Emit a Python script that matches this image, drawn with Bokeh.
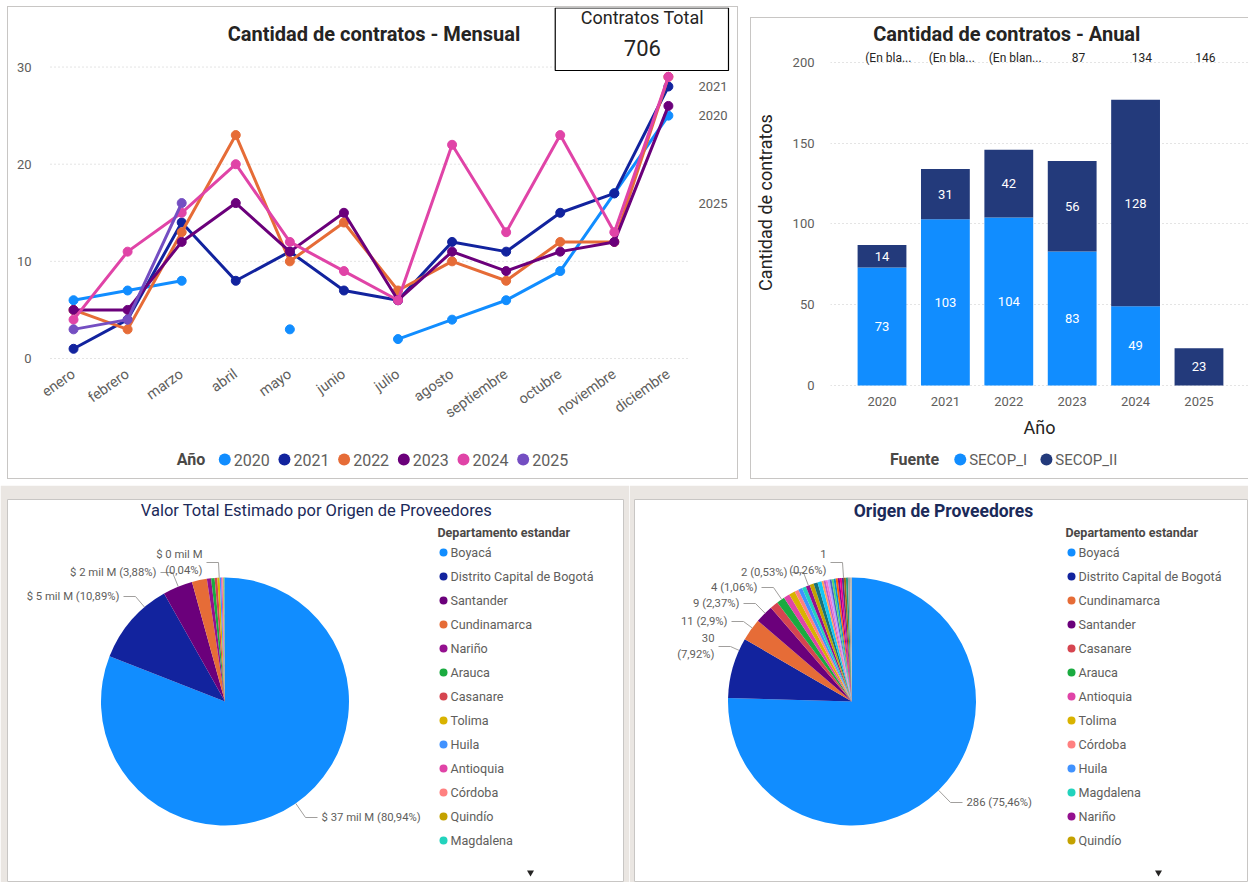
import math
import numpy as np
from bokeh.plotting import figure
from bokeh.models import Range1d, FixedTicker, Spacer
from bokeh.layouts import row, column
from bokeh.embed import file_html
from bokeh.resources import INLINE
from bokeh.core.properties import value

FONT = "Roboto"
GRAY = "#605E5C"
DARK = "#252423"
LEGTITLE = "#4A4846"
NAVY = "#1B2A59"
BEIGE = "#EAE6E2"
BORDER = "#C8C6C4"
LEADER = "#A19F9D"
GRID = "#C8C8C8"
NAN = float("nan")

# ---------------- data ----------------
meses = ["enero", "febrero", "marzo", "abril", "mayo", "junio", "julio",
         "agosto", "septiembre", "octubre", "noviembre", "diciembre"]
serie_anios = ["2020", "2021", "2022", "2023", "2024", "2025"]
mensual_2020 = [6, 7, 8, NAN, 3, NAN, 2, 4, 6, 9, 17, 25]
mensual_2021 = [1, 4, 14, 8, 11, 7, 6, 12, 11, 15, 17, 28]
mensual_2022 = [5, 3, 13, 23, 10, 14, 7, 10, 8, 12, 12, 29]
mensual_2023 = [5, 5, 12, 16, 11, 15, 6, 11, 9, 11, 12, 26]
mensual_2024 = [4, 11, 15, 20, 12, 9, 6, 22, 13, 23, 13, 29]
mensual_2025 = [3, 4, 16, NAN, NAN, NAN, NAN, NAN, NAN, NAN, NAN, NAN]
serie_colores = ["#118DFF", "#12239E", "#E66C37", "#6B007B", "#E044A7", "#744EC2"]
etiquetas_fin = ["2021", "2020", "2025"]
ticks_mensual = [0, 10, 20, 30]

anios = [2020, 2021, 2022, 2023, 2024, 2025]
secop_i = [73, 103, 104, 83, 49, 0]
secop_ii = [14, 31, 42, 56, 128, 23]
etiquetas_superiores = ["(En bla...", "(En bla...", "(En blan...", "87", "134", "146"]
fuentes = ["SECOP_I", "SECOP_II"]
fuente_colores = ["#118DFF", "#233A7B"]
ticks_anual = [0, 50, 100, 150, 200]

depto_valor = ["Boyacá", "Distrito Capital de Bogotá", "Santander", "Cundinamarca",
               "Nariño", "Arauca", "Casanare", "Tolima", "Huila", "Antioquia",
               "Córdoba", "Quindío", "Magdalena", "Meta", "Valle del Cauca"]
pct_valor = [80.94, 10.89, 3.88, 1.95, 0.55, 0.45, 0.35, 0.30, 0.20, 0.15,
             0.10, 0.08, 0.06, 0.06, 0.04]
valor_total_mil_m = 45.7

depto_origen = ["Boyacá", "Distrito Capital de Bogotá", "Cundinamarca", "Santander",
                "Casanare", "Arauca", "Antioquia", "Tolima", "Córdoba", "Huila",
                "Magdalena", "Nariño", "Quindío", "Meta", "Valle del Cauca",
                "Caldas", "Risaralda", "Cauca", "Bolívar", "Atlántico", "Cesar",
                "Sucre", "Norte de Santander", "Putumayo", "Caquetá", "Chocó",
                "Guaviare", "La Guajira", "Vichada", "Amazonas"]
contratos_origen = [286, 30, 11, 9, 4, 4, 3, 3, 2, 2, 2, 2, 2, 2, 2,
                    1, 1, 1, 1, 1, 1, 1, 1, 1, 1, 1, 1, 1, 1, 1]

colores_depto = {
    "Boyacá": "#118DFF", "Distrito Capital de Bogotá": "#12239E",
    "Santander": "#6B007B", "Cundinamarca": "#E66C37", "Nariño": "#94108F",
    "Arauca": "#1AAB40", "Casanare": "#D64550", "Tolima": "#D9B300",
    "Huila": "#4092FF", "Antioquia": "#E044A7", "Córdoba": "#FF8080",
    "Quindío": "#C4A200", "Magdalena": "#22D3BD", "Meta": "#197278",
    "Valle del Cauca": "#15C6F4", "Caldas": "#FFA058", "Risaralda": "#BE5DC9",
    "Cauca": "#F472D0", "Bolívar": "#B5A1FF", "Atlántico": "#4668C5",
    "Cesar": "#5BD667", "Sucre": "#0091D5", "Norte de Santander": "#FF6300",
    "Putumayo": "#99008A", "Caquetá": "#EC008C", "Chocó": "#533285",
    "Guaviare": "#99700A", "La Guajira": "#1F9A85", "Vichada": "#A0A0A0",
    "Amazonas": "#B8B8B8",
}

series = [mensual_2020, mensual_2021, mensual_2022, mensual_2023, mensual_2024, mensual_2025]


def txt(p, x, y, text, size, color, align="left", style="normal", baseline="middle"):
    p.text(x=[x], y=[y], text=[text], text_font=value(FONT), text_font_size=size,
           text_color=color, text_align=align, text_baseline=baseline, text_font_style=style)


def fmt_pct(v):
    s = f"{v:.2f}".rstrip("0").rstrip(".")
    return s.replace(".", ",")


def legend_fig(w, h, left_border, x0, x1):
    # frame aligned with the chart above it; data x = window pixel x
    p = figure(width=w, height=h, output_backend="svg", toolbar_location=None,
               x_range=Range1d(x0, x1), y_range=Range1d(0, h),
               min_border_left=left_border, min_border_right=0,
               min_border_top=0, min_border_bottom=0,
               x_axis_type=None, y_axis_type=None)
    p.outline_line_color = None
    p.grid.visible = False
    return p


def style_axis(ax, size="13px"):
    ax.axis_line_color = None
    ax.major_tick_line_color = None
    ax.minor_tick_line_color = None
    ax.major_label_text_font = FONT
    ax.major_label_text_font_size = size
    ax.major_label_text_color = GRAY


def yL(ry):
    return 478 - ry


# ============ Panel A: monthly lines (content x 8..736, y 7..477) ============
A_W = 729
PX_A = 306 / 31.5          # pixels per contract


def xA(rx):
    return (rx - 46) / 54 - 0.5


def yA(ry):
    return (358 - ry) / PX_A


pA = figure(width=A_W, height=439, output_backend="svg", toolbar_location=None,
            x_range=Range1d(xA(46), xA(736)), y_range=Range1d(yA(361), yA(7)),
            min_border_left=38, min_border_right=0, min_border_top=0, min_border_bottom=85)
pA.outline_line_color = None
pA.xgrid.visible = False
pA.ygrid.visible = False

pA.segment(x0=[xA(50)] * len(ticks_mensual), x1=[xA(687)] * len(ticks_mensual),
           y0=ticks_mensual, y1=ticks_mensual, line_color=GRID, line_dash="1 3", line_width=1)

xs = list(range(len(meses)))
for nombre, vals, col in zip(serie_anios, series, serie_colores):
    pA.line(xs, vals, line_color=col, line_width=3)
    pA.scatter(xs, vals, size=9, fill_color=col, line_color=col)

pA.xaxis.ticker = FixedTicker(ticks=xs)
pA.xaxis.major_label_overrides = {i: m for i, m in enumerate(meses)}
pA.xaxis.major_label_orientation = 0.62
pA.yaxis.ticker = FixedTicker(ticks=ticks_mensual)
style_axis(pA.xaxis, "14.5px")
style_axis(pA.yaxis, "13px")
pA.xaxis.major_label_standoff = 5
pA.yaxis.major_label_standoff = 9

txt(pA, xA(373), yA(33), "Cantidad de contratos - Mensual", "20px", DARK, "center", "bold")
for nombre in etiquetas_fin:
    vals = series[serie_anios.index(nombre)]
    last = [v for v in vals if not math.isnan(v)][-1]
    txt(pA, xA(697), last, nombre, "13px", GRAY)

total_contratos = sum(secop_i) + sum(secop_ii)
pA.quad(left=[xA(554)], right=[xA(727)], top=[yA(7.5)], bottom=[yA(70)],
        fill_color="white", line_color="black", line_width=1.2)
txt(pA, xA(641), yA(17), "Contratos Total", "18px", DARK, "center")
txt(pA, xA(641), yA(47), str(total_contratos), "22px", DARK, "center")

# legend strip of panel A (content y 446..477)
lgA = legend_fig(A_W, 32, 38, 46, 736)
txt(lgA, 176, yL(459), "Año", "16px", LEGTITLE, "left", "bold")
dot_x = [224 + i * 59.6 for i in range(len(serie_anios))]
lgA.scatter(x=dot_x, y=[yL(459)] * len(dot_x), size=12,
            fill_color=serie_colores, line_color=None)
lgA.text(x=[d + 9 for d in dot_x], y=[yL(459)] * len(dot_x), text=serie_anios,
         text_font=value(FONT), text_font_size="16px", text_color=GRAY,
         text_align="left", text_baseline="middle")

colA = column(pA, lgA, styles={"border": f"1px solid {BORDER}"})

# ============ Panel B: yearly stacked bars (content x 751..1248, y 18..477) ============
B_W = 497
PX_B = 335 / 207.43


def xB(rx):
    return 2020 + (rx - 878) / 64


def yB(ry):
    return (385 - ry) / PX_B


pB = figure(width=B_W, height=428, output_backend="svg", toolbar_location=None,
            x_range=Range1d(xB(826), xB(1248)), y_range=Range1d(yB(386), yB(18)),
            min_border_left=75, min_border_right=0, min_border_top=0, min_border_bottom=60)
pB.outline_line_color = None

totales = [a + b for a, b in zip(secop_i, secop_ii)]
pB.vbar(x=anios, bottom=0, top=secop_i, width=0.77, fill_color=fuente_colores[0], line_color=None)
pB.vbar(x=anios, bottom=secop_i, top=totales, width=0.77, fill_color=fuente_colores[1], line_color=None)

lx, ly, lt = [], [], []
for a, v1, v2 in zip(anios, secop_i, secop_ii):
    if v1 > 0:
        lx.append(a); ly.append(v1 / 2); lt.append(str(v1))
    if v2 > 0:
        lx.append(a); ly.append(v1 + v2 / 2); lt.append(str(v2))
pB.text(x=lx, y=ly, text=lt, text_color="white", text_font=value(FONT), text_font_size="13px",
        text_align="center", text_baseline="middle")
pB.text(x=[a + 0.1 for a in anios], y=[yB(57)] * len(anios), text=etiquetas_superiores,
        text_color=DARK, text_font=value(FONT), text_font_size="12px",
        text_align="center", text_baseline="middle")
txt(pB, xB(1004), yB(33), "Cantidad de contratos - Anual", "20px", DARK, "center", "bold")

pB.xaxis.ticker = FixedTicker(ticks=anios)
pB.yaxis.ticker = FixedTicker(ticks=ticks_anual)
for ax in (pB.xaxis, pB.yaxis):
    style_axis(ax, "13px")
    ax.axis_label_text_font = FONT
    ax.axis_label_text_font_size = "18px"
    ax.axis_label_text_color = DARK
    ax.axis_label_text_font_style = "normal"
pB.xaxis.axis_label = "Año"
pB.yaxis.axis_label = "Cantidad de contratos"
pB.xaxis.major_label_standoff = 4
pB.yaxis.major_label_standoff = 10
pB.xaxis.axis_label_standoff = 8
pB.yaxis.axis_label_standoff = 14
pB.xgrid.visible = False
pB.ygrid.grid_line_color = GRID
pB.ygrid.grid_line_dash = "1 3"

lgB = legend_fig(B_W, 32, 75, 826, 1248)
txt(lgB, 886, yL(459), "Fuente", "16px", LEGTITLE, "left", "bold")
fx = [957, 1044]
lgB.scatter(x=fx, y=[yL(459)] * 2, size=12, fill_color=fuente_colores, line_color=None)
lgB.text(x=[d + 9 for d in fx], y=[yL(459)] * 2, text=fuentes,
         text_font=value(FONT), text_font_size="15px", text_color=GRAY,
         text_align="left", text_baseline="middle")

colB = column(pB, lgB, styles={"border-top": f"1px solid {BORDER}",
                               "border-left": f"1px solid {BORDER}",
                               "border-bottom": f"1px solid {BORDER}"})


# ============ pies ============
def pie_fig(width, left_border, frame_w):
    p = figure(width=width, height=397, output_backend="svg", toolbar_location=None,
               x_range=Range1d(0, frame_w), y_range=Range1d(0, 383),
               min_border_left=left_border, min_border_right=width - left_border - frame_w,
               min_border_top=14, min_border_bottom=0,
               x_axis_type=None, y_axis_type=None)
    p.border_fill_color = BEIGE
    p.background_fill_color = "white"
    p.outline_line_color = BORDER
    p.grid.visible = False
    return p


def draw_pie(p, X, Y, cx, cy, r, vals, cols):
    tot = float(sum(vals))
    cum = np.cumsum([0.0] + list(vals)) / tot
    starts = np.pi / 2 - 2 * np.pi * cum[:-1]
    ends = np.pi / 2 - 2 * np.pi * cum[1:]
    p.wedge(x=X(cx), y=Y(cy), radius=r, start_angle=starts, end_angle=ends,
            direction="clock", fill_color=cols, line_color=None)


def pie_labels(p, X, Y, cx, cy, r, specs):
    for dx, dy, side, text in specs:
        n = math.hypot(dx, dy)
        ex, ey = cx + dx * r / n, cy - dy * r / n
        bx, by = cx + dx, cy - dy
        hx = bx + side * 12
        p.line([X(ex), X(bx), X(hx)], [Y(ey), Y(by), Y(by)], line_color=LEADER, line_width=1)
        p.text(x=[X(hx + side * 4)], y=[Y(by)], text=[text], text_color=GRAY,
               text_font=value(FONT), text_font_size="11.3px",
               text_align="left" if side > 0 else "right", text_baseline="middle")


def pie_legend(p, X, Y, x_dot, names):
    p.text(x=[X(x_dot - 6)], y=[Y(532)], text=["Departamento estandar"], text_color=LEGTITLE,
           text_font=value(FONT), text_font_size="12.5px", text_font_style="bold",
           text_align="left", text_baseline="middle")
    ys = [Y(552 + 24 * i) for i in range(len(names))]
    p.scatter(x=[X(x_dot)] * len(names), y=ys, size=8,
              fill_color=[colores_depto[n] for n in names], line_color=None)
    p.text(x=[X(x_dot + 7)] * len(names), y=ys, text=names, text_color=GRAY,
           text_font=value(FONT), text_font_size="12.6px", text_align="left", text_baseline="middle")


# Panel C (canvas x 0..629, frame 7..623)
pC = pie_fig(629, 7, 616)


def XC(rx):
    return rx - 7


def YC(ry):
    return 882 - ry


txt(pC, XC(316), YC(510), "Valor Total Estimado por Origen de Proveedores", "16.5px", NAVY, "center")
draw_pie(pC, XC, YC, 224.5, 701, 124, pct_valor, [colores_depto[d] for d in depto_valor])


def txt_valor(i, two_lines=False):
    v = round(pct_valor[i] * valor_total_mil_m / 100)
    sep = "\n" if two_lines else " "
    return f"$ {v} mil M{sep}({fmt_pct(pct_valor[i])}%)"


last_c = len(pct_valor) - 1
pie_labels(pC, XC, YC, 224.5, 701, 124, [
    (80.5, -116, 1, txt_valor(0)),
    (-89.5, 105, -1, txt_valor(1)),
    (-52.5, 129, -1, txt_valor(2)),
    (-6.5, 139, -1, txt_valor(last_c, True)),
])
pie_legend(pC, XC, YC, 443, depto_valor[:13])
pC.scatter(x=[XC(530)], y=[YC(872)], marker="inverted_triangle", size=7,
           fill_color=DARK, line_color=None)

# Panel D (canvas x 629..1248, frame 634..1248)
pD = pie_fig(619, 5, 614)


def XD(rx):
    return rx - 634


def YD(ry):
    return 882 - ry


txt(pD, XD(943), YD(510), "Origen de Proveedores", "17.5px", NAVY, "center", "bold")
draw_pie(pD, XD, YD, 851.5, 701, 124, contratos_origen, [colores_depto[d] for d in depto_origen])
tot_o = sum(contratos_origen)


def txt_origen(i, two_lines=False):
    c = contratos_origen[i]
    sep = "\n" if two_lines else " "
    return f"{c}{sep}({fmt_pct(100 * c / tot_o)}%)"


last_d = len(contratos_origen) - 1
pie_labels(pD, XD, YD, 851.5, 701, 124, [
    (98.5, -101, 1, txt_origen(0)),
    (-121.5, 55, -1, txt_origen(1, True)),
    (-108.5, 80, -1, txt_origen(2)),
    (-96.5, 98, -1, txt_origen(3)),
    (-78.5, 114, -1, txt_origen(4)),
    (-48.5, 129, -1, txt_origen(depto_origen.index("Quindío"))),
    (-9.5, 139, -1, txt_origen(last_d, True)),
])
pie_legend(pD, XD, YD, 1071, depto_origen[:13])
pD.scatter(x=[XD(1158)], y=[YD(872)], marker="inverted_triangle", size=7,
           fill_color=DARK, line_color=None)

top_row = row(Spacer(width=7, height=10), colA, Spacer(width=12, height=10),
              column(Spacer(width=10, height=11), colB))
bottom_row = row(pC, pD)
layout = column(Spacer(width=10, height=6), top_row, Spacer(width=10, height=6), bottom_row)
open("out.html", "w").write(file_html(layout, INLINE, title="Contratos"))
